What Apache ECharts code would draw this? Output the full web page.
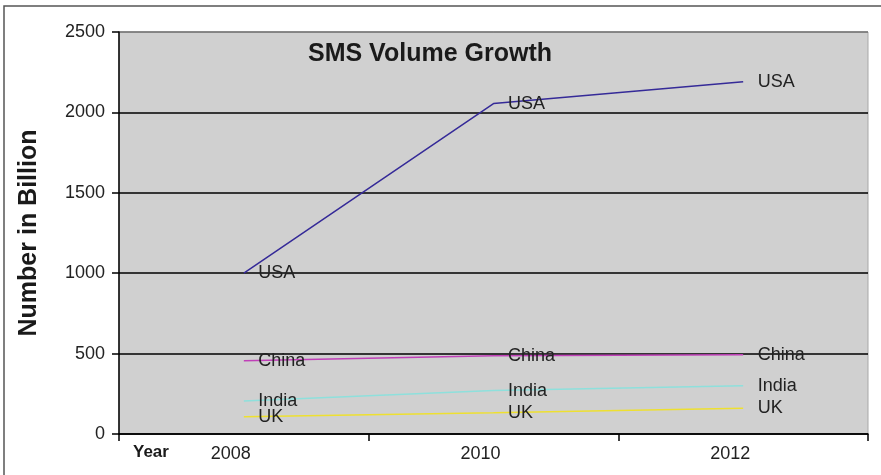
<!DOCTYPE html>
<html>
<head>
<meta charset="utf-8">
<script src="https://cdn.jsdelivr.net/npm/echarts@6/dist/echarts.min.js"></script>
<style>html,body{margin:0;padding:0;background:#fff;}#c{width:881px;height:475px;}</style>
</head>
<body>
<div id="c"></div>
<script>
var years = ['2008', '2010', '2012'];
var usa = [1000, 2055, 2190];
var china = [455, 487, 493];
var india = [205, 270, 300];
var uk = [108, 132, 160];
var seriesNames = ['USA', 'China', 'India', 'UK'];
var seriesColors = ['#352a98', '#c040b8', '#8ee0dc', '#eee030'];
var yTicks = [0, 500, 1000, 1500, 2000, 2500];

var FONT = '"Liberation Sans", Arial, Helvetica, sans-serif';
var chart = echarts.init(document.getElementById('c'));
var dataSets = [usa, china, india, uk];
var series = dataSets.map(function (d, i) {
  return {
    name: seriesNames[i],
    type: 'line',
    data: d,
    symbol: 'circle',
    symbolSize: 1,
    showSymbol: true,
    itemStyle: { color: 'rgba(0,0,0,0)', borderWidth: 0 },
    lineStyle: { color: seriesColors[i], width: 1.5 },
    label: {
      show: true,
      position: 'right',
      distance: 14,
      formatter: seriesNames[i],
      fontFamily: FONT,
      fontSize: 18,
      color: '#222'
    },
    labelLayout: { hideOverlap: false },
    emphasis: { disabled: true },
    animation: false,
    z: 3
  };
});

chart.setOption({
  animation: false,
  backgroundColor: '#fff',
  title: {
    text: 'SMS Volume Growth',
    left: 303,
    top: 37,
    textStyle: { fontFamily: FONT, fontSize: 25, fontWeight: 'bold', color: '#1a1a1a' }
  },
  grid: {
    left: 119, right: 13, top: 32, bottom: 41,
    show: true,
    backgroundColor: '#d0d0d0',
    borderColor: '#a8a8a8',
    borderWidth: 1
  },
  xAxis: {
    type: 'category',
    data: years,
    boundaryGap: true,
    axisLine: { show: true, lineStyle: { color: '#000', width: 1.5 } },
    axisTick: { show: true, length: 7, inside: false, lineStyle: { color: '#000', width: 1.5 } },
    axisLabel: {
      margin: 11,
      fontFamily: FONT,
      fontSize: 18,
      color: '#222',
      padding: [0, 26, 0, 0]
    },
    splitLine: { show: false }
  },
  yAxis: {
    type: 'value',
    min: yTicks[0],
    max: yTicks[yTicks.length - 1],
    interval: 500,
    axisLine: { show: true, lineStyle: { color: '#000', width: 1.5 } },
    axisTick: { show: true, length: 7, lineStyle: { color: '#000', width: 1.5 } },
    axisLabel: { margin: 14, fontFamily: FONT, fontSize: 18, color: '#222', formatter: function (v) { return String(v); } },
    splitLine: { show: true, lineStyle: { color: ['#000', '#000', '#000', '#000', '#000', '#707070'], width: 1.5 } }
  },
  graphic: [
    {
      type: 'rect',
      shape: { x: 4, y: 6, width: 1000, height: 1000 },
      style: { fill: 'none', stroke: '#555', lineWidth: 1.5 },
      z: 0, silent: true
    },
    {
      type: 'text',
      x: 29, y: 233,
      rotation: Math.PI / 2,
      style: {
        text: 'Number in Billion',
        fontFamily: FONT, fontSize: 25, fontWeight: 'bold', fill: '#1a1a1a',
        textAlign: 'center', textVerticalAlign: 'middle'
      }
    },
    {
      type: 'text',
      x: 133, y: 452,
      style: {
        text: 'Year',
        fontFamily: FONT, fontSize: 17, fontWeight: 'bold', fill: '#1a1a1a',
        textAlign: 'left', textVerticalAlign: 'middle'
      }
    }
  ],
  series: series
});
</script>
</body>
</html>
